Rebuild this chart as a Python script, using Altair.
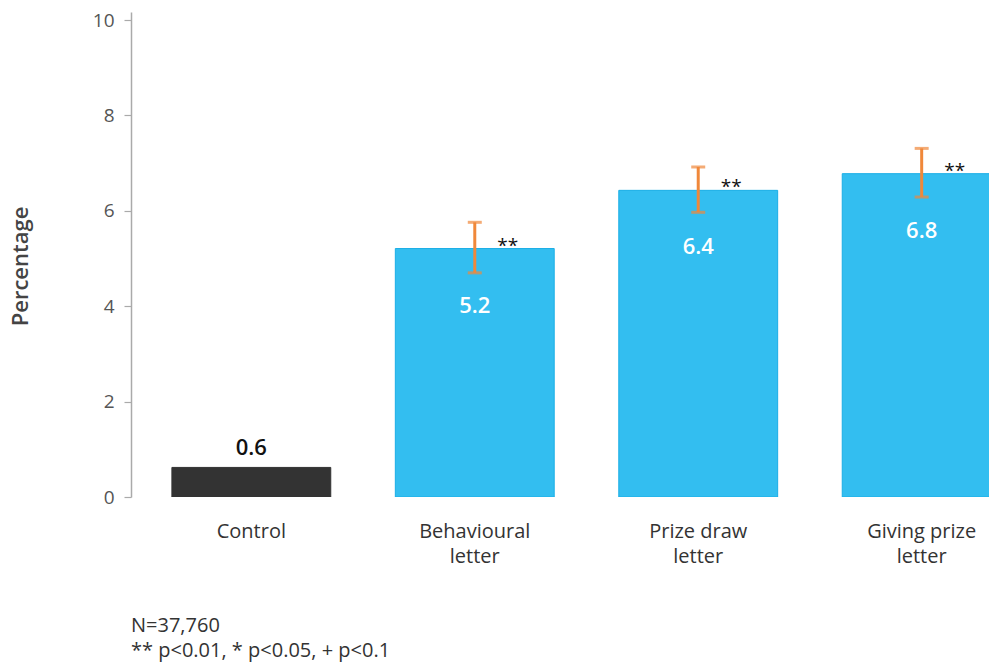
import altair as alt
import pandas as pd

categories = ["Control", "Behavioural letter", "Prize draw letter", "Giving prize letter"]
values = [0.62, 5.21, 6.43, 6.78]
ci_low = [None, 4.70, 5.97, 6.29]
ci_high = [None, 5.76, 6.92, 7.31]
stars = ["", "**", "**", "**"]
notes = ["N=37,760", "** p<0.01, * p<0.05, + p<0.1"]

df = pd.DataFrame({"cat": categories, "val": values, "lo": ci_low, "hi": ci_high, "stars": stars})

FONT = "Open Sans"
W, H = 858, 485

x_enc = alt.X(
    "cat:N",
    sort=categories,
    scale=alt.Scale(range=[0, 911], paddingInner=0.289, paddingOuter=0.183),
    axis=alt.Axis(
        title=None, domain=False, ticks=False, labelAngle=0, labelFontSize=20,
        labelColor="#333333", labelFont=FONT, labelPadding=24, labelBaseline="top",
        labelLineHeight=25,
        labelExpr="indexof(datum.label, ' letter') > 0 ? [replace(datum.label, ' letter', ''), 'letter'] : datum.label",
    ),
)
y_scale = alt.Scale(domain=[0, 10.17], nice=False, zero=True)

base = alt.Chart(df)

bars = base.mark_bar(clip=True, strokeWidth=1).encode(
    x=x_enc,
    y=alt.Y(
        "val:Q",
        scale=y_scale,
        axis=alt.Axis(
            values=[0, 2, 4, 6, 8, 10], tickSize=7, labelPadding=10, grid=False,
            domainColor="#aaaaaa", tickColor="#aaaaaa", domainWidth=1.5, tickWidth=1.2,
            labelColor="#555555", labelFontSize=19, labelFont=FONT,
            title="Percentage", titleFont=FONT, titleFontSize=22, titleFontWeight=600,
            titleColor="#444444", titleAngle=-90, titleX=-111, titleY=254,
            titleAlign="center", titleBaseline="middle",
        ),
    ),
    color=alt.condition(alt.datum.cat == "Control", alt.value("#333333"), alt.value("#33BEF0")),
    stroke=alt.condition(alt.datum.cat == "Control", alt.value("#333333"), alt.value("#1AAEE6")),
)

err = base.transform_filter("isValid(datum.lo)")
err_rule = err.mark_rule(color="#F0883A", strokeWidth=3).encode(
    x=alt.X("cat:N", sort=categories), y=alt.Y("lo:Q", scale=y_scale), y2="hi:Q"
)
cap_lo = err.mark_tick(color="#F0883A", size=14, thickness=3, orient="horizontal").encode(
    x=alt.X("cat:N", sort=categories), y=alt.Y("lo:Q", scale=y_scale)
)
cap_hi = err.mark_tick(color="#F0883A", size=14, thickness=3, orient="horizontal").encode(
    x=alt.X("cat:N", sort=categories), y=alt.Y("hi:Q", scale=y_scale)
)

label_ctrl = base.transform_filter(alt.datum.cat == "Control").mark_text(
    font=FONT, fontSize=22, fontWeight=600, color="#111111", baseline="middle", dy=-19
).encode(
    x=alt.X("cat:N", sort=categories), y=alt.Y("val:Q", scale=y_scale),
    text=alt.Text("val:Q", format=".1f"),
)
label_in = base.transform_filter(alt.datum.cat != "Control").mark_text(
    font=FONT, fontSize=22, fontWeight=600, color="white", baseline="middle", dy=57
).encode(
    x=alt.X("cat:N", sort=categories), y=alt.Y("val:Q", scale=y_scale),
    text=alt.Text("val:Q", format=".1f"),
)
star_txt = base.mark_text(
    font=FONT, fontSize=19, color="#111111", baseline="middle", xOffset=33, dy=-3
).encode(
    x=alt.X("cat:N", sort=categories), y=alt.Y("val:Q", scale=y_scale), text="stars:N"
)

note_df = pd.DataFrame({"note": ["\n".join(notes)]})
note = alt.Chart(note_df).mark_text(
    font=FONT, fontSize=20, color="#333333", align="left", baseline="alphabetic",
    lineBreak="\n", lineHeight=25,
).encode(x=alt.value(0), y=alt.value(620), text="note:N")

chart = alt.layer(bars, err_rule, cap_lo, cap_hi, label_ctrl, label_in, star_txt, note).properties(
    width=W, height=H, autosize="none",
    padding={"left": 131, "top": 12, "right": 0, "bottom": 165},
).configure_view(stroke=None)

chart.save("out.html", embed_options={"renderer": "svg", "actions": False})
